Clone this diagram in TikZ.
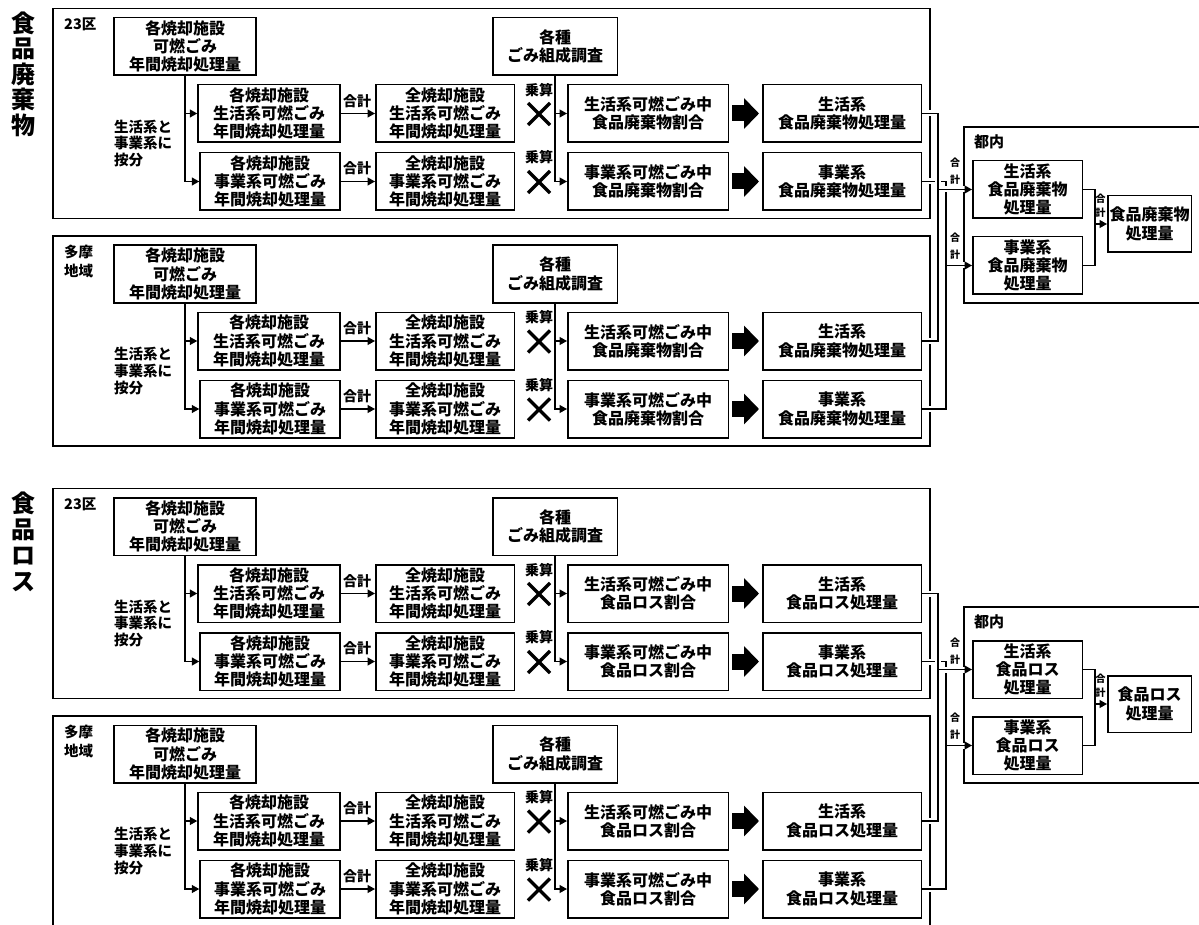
\documentclass[tikz,border=0pt]{standalone}
\usepackage{fontspec}
\setmainfont{Noto Sans CJK JP}
\usetikzlibrary{arrows.meta,calc}
\tikzset{
 x=1pt, y=-1pt,
 frame/.style={draw, line width=1.5pt},
 box/.style={draw, line width=1.5pt, align=center, inner sep=0pt, minimum height=57.5pt, font=\bfseries\fontsize{16}{18.3}\selectfont},
 lbl/.style={align=left, inner sep=0pt, font=\bfseries\fontsize{14.5}{16.7}\selectfont},
 small/.style={align=center, inner sep=0pt, font=\bfseries\fontsize{14}{16}\selectfont},
 tiny/.style={align=center, inner sep=0pt, font=\bfseries\fontsize{10}{16.5}\selectfont},
 conn/.style={line width=1.3pt},
 arr/.style={conn, -{Triangle[length=7.5pt,width=8pt]}},
 gapline/.style={preaction={draw=white, line width=6pt}},
 gaparr/.style={preaction={draw=white, line width=6pt, -, shorten <=2pt, shorten >=4pt}},
 fat/.style={line width=16pt, -{Triangle[length=15pt,width=30pt]}, shorten <=3pt, shorten >=3pt},
 cross/.style={line width=3.5pt},
}
\newcommand\regionblock[4]{%
\begin{scope}[shift={(0,#2)}]
 \draw[frame] (53,8.5) rectangle (930,218.5);
 \node[lbl, anchor=north west, font=\bfseries\fontsize{14.5}{19}\selectfont] (#1lab) at (64,17.5) {#3};
 \node[box, minimum width=142pt] (#1top) at (185,46.5) {各焼却施設\\可燃ごみ\\年間焼却処理量};
 \node[box, minimum width=142pt] (#1A1) at (269,113.5) {各焼却施設\\生活系可燃ごみ\\年間焼却処理量};
 \node[box, minimum width=140pt] (#1A2) at (270,181.5) {各焼却施設\\事業系可燃ごみ\\年間焼却処理量};
 \node[lbl, anchor=north west] (#1div) at (114,119.5) {生活系と\\事業系に\\按分};
 \node[box, minimum width=138.5pt] (#1B1) at (445,113.5) {全焼却施設\\生活系可燃ごみ\\年間焼却処理量};
 \node[box, minimum width=138.5pt] (#1B2) at (445,181.5) {全焼却施設\\事業系可燃ごみ\\年間焼却処理量};
 \node[box, minimum width=124.5pt] (#1G) at (555,46.5) {各種\\ごみ組成調査};
 \node[box, minimum width=160.5pt] (#1C1) at (648,113.5) {生活系可燃ごみ中\\#4割合};
 \node[box, minimum width=160.5pt] (#1C2) at (648,181.5) {事業系可燃ごみ中\\#4割合};
 \node[box, minimum width=158.5pt] (#1D1) at (842,113.5) {生活系\\#4処理量};
 \node[box, minimum width=158.5pt] (#1D2) at (842,181.5) {事業系\\#4処理量};
 \draw[arr] (#1top.south) |- (#1A1);
 \draw[arr] (#1top.south) |- (#1A2);
 \draw[arr] (#1A1) -- (#1B1);
 \draw[arr] (#1A2) -- (#1B2);
 \node[small] (#1s1) at (357,101) {合計};
 \node[small] (#1s2) at (357,168.5) {合計};
 \draw[arr] (#1G.south) |- (#1C1);
 \draw[arr] (#1G.south) |- (#1C2);
 \node[small] (#1m1) at (539,90) {乗算};
 \node[small] (#1m2) at (539,157.5) {乗算};
 \draw[cross] (528,103) -- (550,125) (528,125) -- (550,103);
 \draw[cross] (528,171) -- (550,193) (528,193) -- (550,171);
 \draw[fat] (#1C1) -- (#1D1);
 \draw[fat] (#1C2) -- (#1D2);
\end{scope}}
\newcommand\tonaiblock[6]{%
\begin{scope}[shift={(0,#2)}]
 \draw[frame] (964,127) rectangle (1215,303);
 \node[lbl, anchor=west, font=\bfseries\fontsize{15}{16}\selectfont] (#1lab) at (974,142) {都内};
 \node[box, minimum width=109.5pt] (#1A) at (1027.5,189.5) {生活系\\#5\\処理量};
 \node[box, minimum width=109.5pt] (#1B) at (1027.5,265.5) {事業系\\#5\\処理量};
 \node[box, minimum width=83.5pt, minimum height=56.5pt] (#1F) at (1149.5,224) {#6\\処理量};
 \coordinate (#1sj) at (938,189.5);
 \coordinate (#1bj) at (946,265.5);
 \coordinate (#1fj) at (1095,224);
 \draw[conn, gapline] (#3D2.east) -| (#1bj) |- (#4D2.east);
 \draw[conn, gapline] (#3D1.east) -| (#1sj) |- (#4D1.east);
 \draw[arr, gaparr] (#1sj) -- (#1A);
 \draw[arr, gaparr] (#1bj) -- (#1B);
 \node[tiny] (#1t1) at (955,171) {合\\計};
 \node[tiny] (#1t2) at (955,246) {合\\計};
 \draw[conn] (#1A.east) -| (#1fj) |- (#1B.east);
 \draw[arr] (#1fj) -- (#1F);
 \node[tiny, font=\bfseries\fontsize{10}{13.5}\selectfont] (#1t3) at (1100.5,205.5) {合\\計};
\end{scope}}
\begin{document}
\begin{tikzpicture}
\useasboundingbox (0,0) rectangle (1199,925);
\fill[white] (0,0) rectangle (1199,925);
\node[align=center, inner sep=0pt, font=\bfseries\fontsize{24}{25.5}\selectfont] (title1) at (24,74) {食\\品\\廃\\棄\\物};
\node[align=center, inner sep=0pt, font=\bfseries\fontsize{24}{26}\selectfont] (title2) at (24,542) {食\\品\\ロ\\ス};
\regionblock{a}{0}{23区}{食品廃棄物}
\regionblock{b}{227.5}{多摩\\地域}{食品廃棄物}
\regionblock{c}{480}{23区}{食品ロス}
\regionblock{d}{707.5}{多摩\\地域}{食品ロス}
\tonaiblock{p}{0}{a}{b}{食品廃棄物}{食品廃棄物}
\tonaiblock{q}{480}{c}{d}{食品ロス}{食品ロス}
\end{tikzpicture}
\end{document}
